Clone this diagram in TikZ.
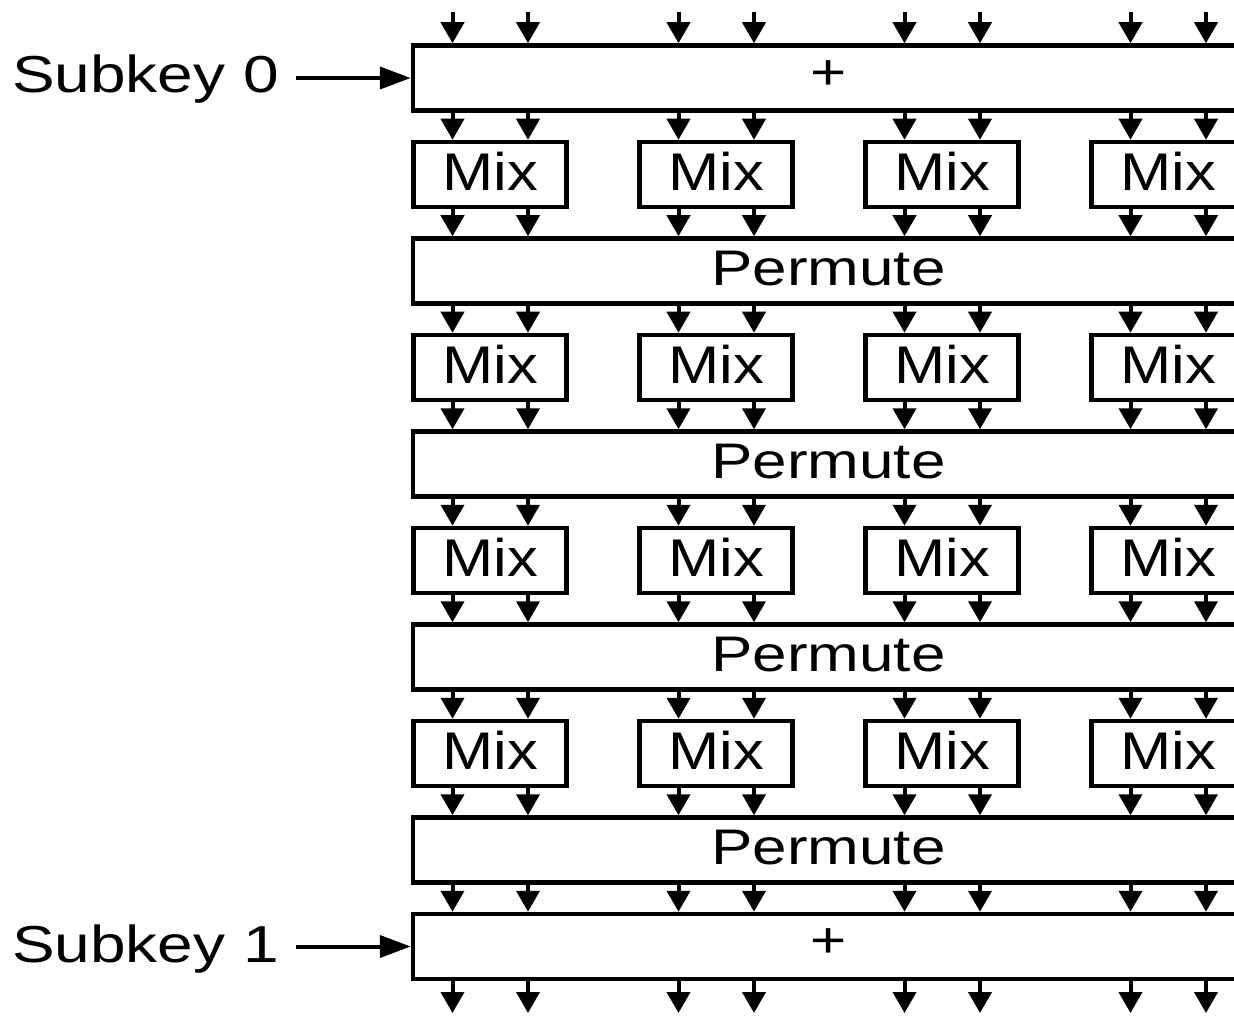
\documentclass[tikz,border=0pt]{standalone}
\usepackage{fontspec}
\setmainfont{Liberation Sans}
\newfontfamily\mixfont[FakeStretch=1.16]{Liberation Sans}
\newfontfamily\permfont[FakeStretch=1.24]{Liberation Sans}
\newfontfamily\keyfont[FakeStretch=1.23]{Liberation Sans}
\usetikzlibrary{arrows.meta}
\begin{document}
\begin{tikzpicture}[x=1pt,y=-1pt,
  box/.style={draw, line width=4.5pt, rectangle, inner sep=0pt, minimum height=65pt},
  mixbox/.style={box, minimum width=153pt, font=\mixfont\fontsize{53}{60}\selectfont, text depth=7pt},
  widebox/.style={box, minimum width=831pt, font=\permfont\fontsize{50}{60}\selectfont, text depth=6pt},
  keylabel/.style={inner sep=0pt, anchor=base west, font=\keyfont\fontsize{52}{60}\selectfont},
  varr/.style={line width=4pt, -{Triangle[length=21pt,width=23pt]}},
  harr/.style={line width=4pt, -{Triangle[length=31pt,width=22pt]}},
]
\useasboundingbox (0,0) rectangle (1234,1016);
\clip (0,0) rectangle (1234,1016);

% wide boxes
\node[widebox] (w0) at (828.5, 78) {+};
\foreach \r in {2,4,6,8}
  \node[widebox] (w\r) at (828.5, {78+96.5*\r}) {Permute};
\node[widebox] (w9) at (828.5, {78+96.5*9}) {+};

% mix boxes
\foreach \r in {1,3,5,7}
  \foreach \k in {0,...,3}
    \node[mixbox] (m\r-\k) at ({490+226*\k}, {78+96.5*\r}) {Mix};

% column coordinates (free ends)
\foreach \k in {0,...,3}
  \foreach \s in {0,1} {
    \coordinate (t\k-\s) at ({452.5+226*\k+75.5*\s}, 12);
    \coordinate (b\k-\s) at ({452.5+226*\k+75.5*\s}, 1013);
  }

% top and bottom arrows, and between permute 8 and subkey box 9
\foreach \k in {0,...,3}
  \foreach \s in {0,1} {
    \draw[varr] (t\k-\s) -- (t\k-\s |- w0.north);
    \draw[varr] (t\k-\s |- w8.south) -- (t\k-\s |- w9.north);
    \draw[varr] (t\k-\s |- w9.south) -- (b\k-\s);
  }

% arrows around mix rows
\foreach \r in {1,3,5,7} {
  \pgfmathtruncatemacro\p{\r-1}
  \pgfmathtruncatemacro\n{\r+1}
  \foreach \k in {0,...,3}
    \foreach \s in {0,1} {
      \draw[varr] (t\k-\s |- w\p.south) -- (t\k-\s |- m\r-\k.north);
      \draw[varr] (t\k-\s |- m\r-\k.south) -- (t\k-\s |- w\n.north);
    }
}

% subkey labels
\node[keylabel] (k0) at (12, 93) {Subkey 0};
\node[keylabel] (k1) at (12, 962.5) {Subkey 1};
\draw[harr, shorten <=17pt] (k0.east |- w0.west) -- (w0.west);
\draw[harr, shorten <=17pt] (k1.east |- w9.west) -- (w9.west);
\end{tikzpicture}
\end{document}
